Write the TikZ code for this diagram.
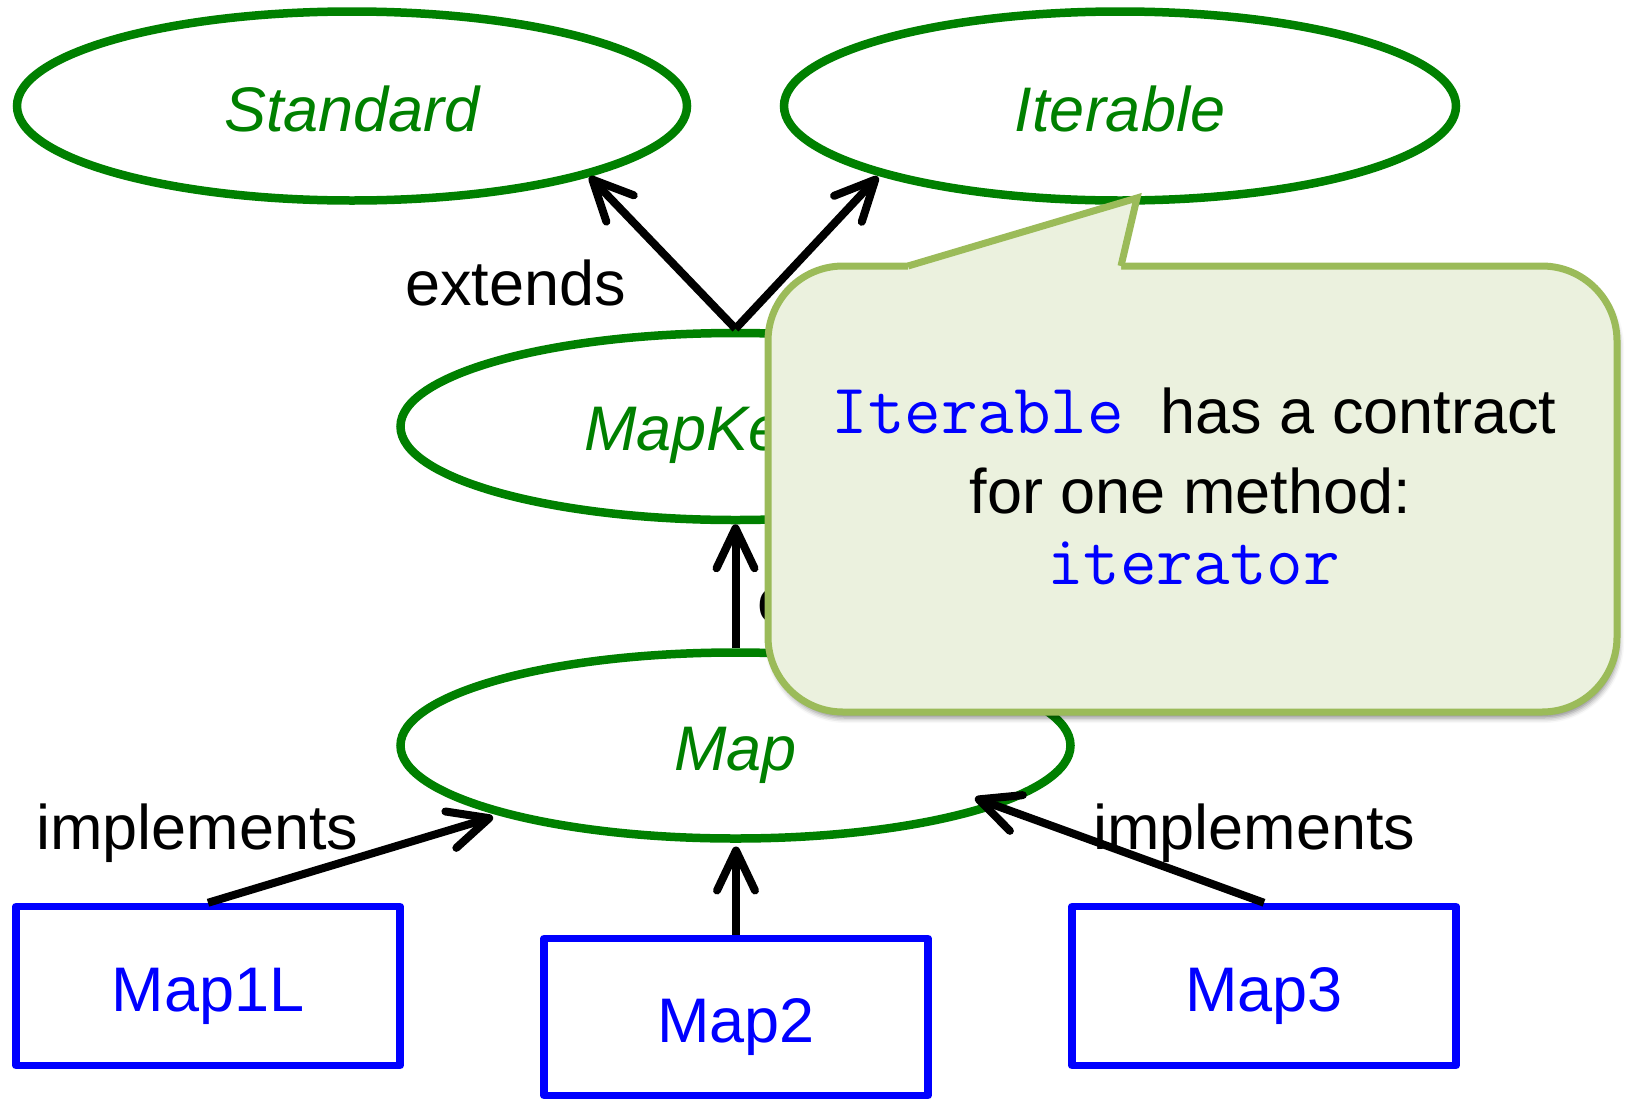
\documentclass[tikz,border=0pt]{standalone}
\usepackage{fontspec}
\setmainfont{Liberation Sans}
\usetikzlibrary{arrows.meta,shapes.geometric,calc,shadows.blur}

\definecolor{ifgreen}{HTML}{008000}
\definecolor{clsblue}{HTML}{0000FF}
\definecolor{notefill}{HTML}{EBF1DE}
\definecolor{noteedge}{HTML}{9BBB59}

\newcommand{\codefont}{\fontsize{71}{76}\selectfont\ttfamily}

\begin{document}
\begin{tikzpicture}[x=1pt,y=-1pt,
  every node/.style={font=\fontsize{63}{76}\selectfont},
  iface/.style={ellipse, draw=ifgreen, line width=8.5pt, inner sep=0pt,
    text=ifgreen, font=\fontsize{63}{76}\selectfont\itshape,
    text height=50pt, text depth=0pt,
    minimum width=670pt, minimum height=188pt},
  ifname/.style={text=ifgreen, font=\fontsize{63}{76}\selectfont\itshape,
    inner sep=0pt, anchor=base west},
  cls/.style={rectangle, draw=clsblue, line width=7.5pt, line join=round,
    text=clsblue, inner sep=0pt, minimum width=384pt, minimum height=158pt,
    text height=50pt, text depth=0pt},
  rel/.style={draw=black, line width=8pt,
    -{Straight Barb[length=40pt,width=38pt,round]}},
  lbl/.style={anchor=base west, text=black, inner sep=0pt},
  notebox/.style={rectangle, rounded corners=75pt, fill=notefill,
    draw=noteedge, line width=7pt, minimum width=849pt, minimum height=446pt,
    blur shadow={shadow xshift=2pt, shadow yshift=-6pt,
      shadow blur radius=5pt, shadow opacity=45}},
  notetext/.style={anchor=base, inner sep=0pt},
]
\useasboundingbox (0,0) rectangle (1627,1098);

% interfaces
\node[iface, minimum width=670pt, minimum height=189pt] (std) at (352,106) {Standard};
\node[iface, minimum width=672pt, minimum height=189pt] (itr) at (1120,106) {Iterable};
\node[iface, minimum height=187pt] (mk) at (735.5,426.5) {};
\node[ifname] (mkname) at ($(mk.center)+(-151.5,23.5)$) {MapKey};
\node[iface, minimum height=186pt] (mp) at (735.5,745.5) {Map};

% classes
\node[cls, minimum height=159pt] (m1) at (208,986) {Map1L};
\node[cls, minimum height=157pt] (m2) at (736,1017) {Map2};
\node[cls, minimum height=159pt] (m3) at (1264,986) {Map3};

% relation labels
\node[lbl] (ext1) at (405,305) {extends};
\node[lbl] (ext2) at (757,622) {extends};
\node[lbl] (imp1) at (36,849) {implements};
\node[lbl] (imp2) at (1093,849) {implements};

% relations
\draw[rel] (mk.north) -- ($(std.center)+(237.6,70.7)$);
\draw[rel] (mk.north) -- ($(itr.center)+(-242,70.7)$);
\draw[rel] (mp.north) -- (mk.south);
\draw[rel] (m1.north) -- ($(mp.center)+(-242.5,71.5)$);
\draw[rel] (m2.north) -- ($(mp.center)+(0.5,101)$);
\draw[rel] (m3.north) -- ($(mp.center)+(239.5,52.5)$);

% callout
\node[notebox] (note) at (1192.5,489) {};
\coordinate (tipL) at (908,266);
\coordinate (tipT) at (1137,198);
\coordinate (tipR) at (1121,266);
\fill[notefill] (tipL) -- (tipT) -- (tipR) -- (1121,271) -- (908,271) -- cycle;
\draw[draw=noteedge, line width=7pt, line join=miter] (tipL) -- (tipT) -- (tipR);

\node[notetext] (nl1) at (1194,433)
  {\textcolor{clsblue}{\codefont Iterable\ }has a contract};
\node[notetext] (nl2) at (1190.5,513) {for one method:};
\node[notetext, text=clsblue] (nl3) at (1193.5,584) {\codefont iterator};
\end{tikzpicture}
\end{document}
